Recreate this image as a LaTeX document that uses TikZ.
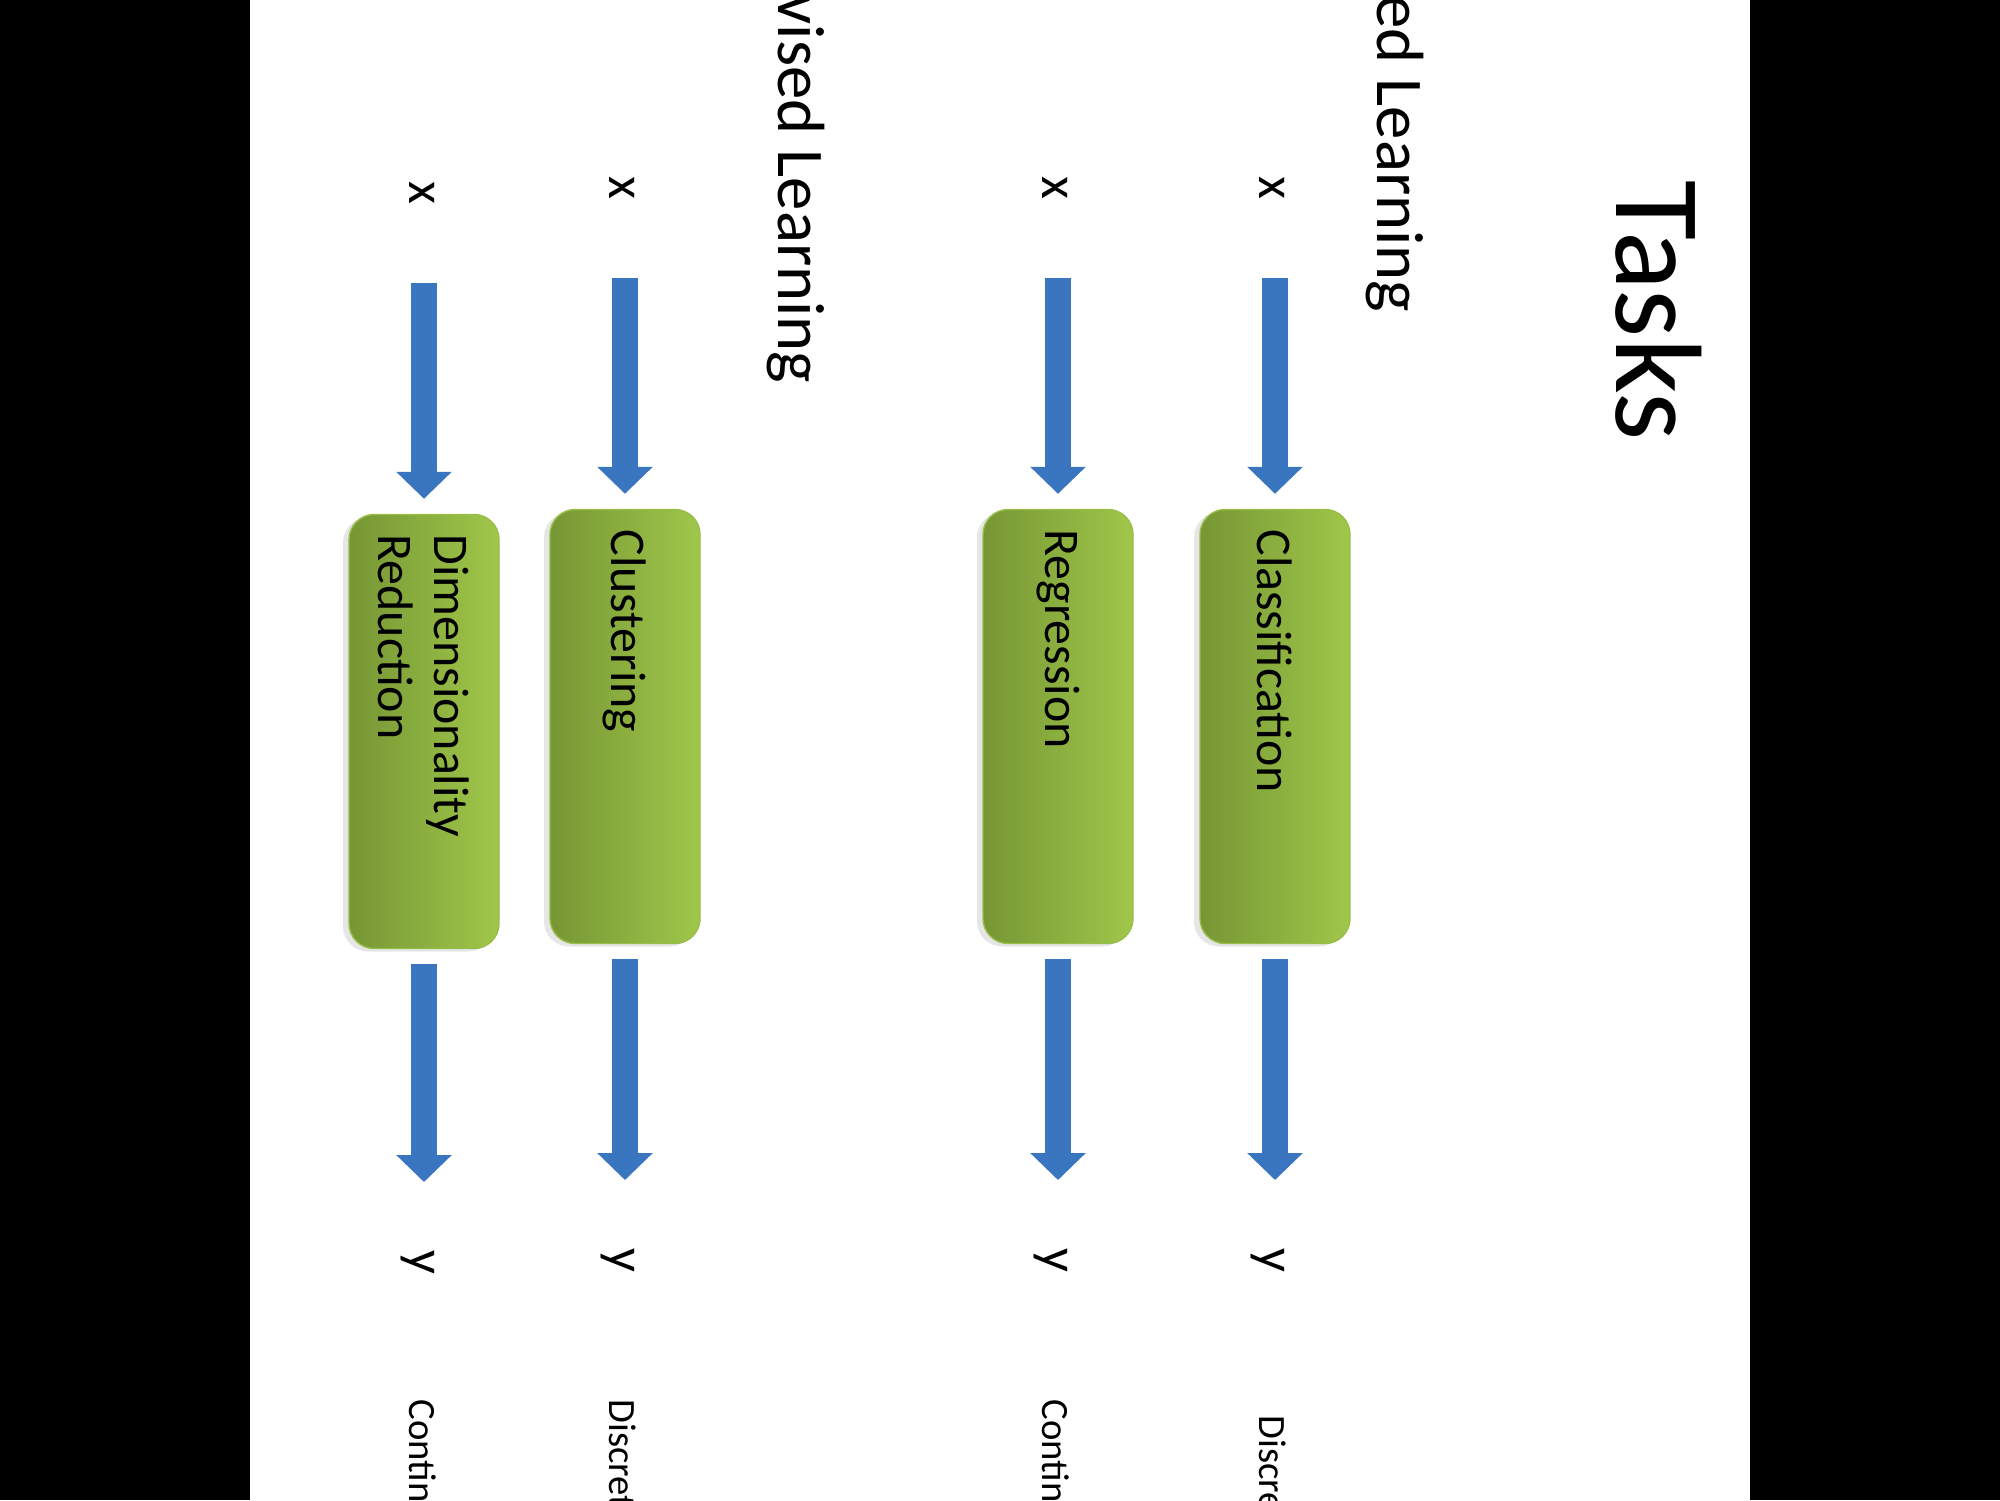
\documentclass[tikz,border=0pt]{standalone}
\usepackage{fontspec}
\setmainfont{Carlito}
\usetikzlibrary{arrows.meta,shadows}
\definecolor{arrowblue}{RGB}{58,118,192}
\definecolor{boxdark}{RGB}{118,150,52}
\definecolor{boxlight}{RGB}{160,199,74}
\definecolor{boxline}{RGB}{150,190,72}

\begin{document}
\begin{tikzpicture}[
    rot/.style={rotate=-90,inner sep=0pt},
    iolabel/.style={rot,font=\fontsize{15}{18}\selectfont,anchor=base},
    outnote/.style={rot,font=\fontsize{11}{13}\selectfont,anchor=base west},
    task/.style={rotate=-90,draw=boxline,rounded corners=0.25cm,minimum height=1.5cm,text width=3.94cm,inner xsep=0.2cm,inner ysep=0pt,align=left,left color=boxdark,right color=boxlight,font=\fontsize{14.2}{16}\selectfont,drop shadow={shadow xshift=-0.6mm,shadow yshift=-0.3mm,opacity=0.2}},
    flow/.style={line width=2.6mm,draw=arrowblue,-{Triangle[width=5.4mm,length=2.7mm]}}]
        \clip(0,0)rectangle(20,-15);
        \fill[black](0,0)rectangle(2.5,-15);
        \fill[black](17.5,0)rectangle(20,-15);

        % headings
        \node[rot,anchor=base west,font=\fontsize{35}{42}\selectfont](title)at(16.16,-1.80){Tasks};
        \node[rot,anchor=base east,font=\fontsize{19}{23}\selectfont](sup)at(13.77,-3.13){Supervised Learning};
        \node[rot,anchor=base east,font=\fontsize{19}{23}\selectfont](unsup)at(7.78,-3.84){Unsupervised Learning};

        % task boxes
        \node[task](cls)at(12.75,-7.265){Classification};
        \node[task](reg)at(10.58,-7.265){Regression};
        \node[task](clu)at(6.25,-7.265){Clustering};
        \node[task](dim)at(4.24,-7.315){Dimensionality\\Reduction};

        % inputs and outputs
        \node[iolabel](x1)at(12.595,-1.875){x};
        \node[iolabel](x2)at(10.425,-1.875){x};
        \node[iolabel](x3)at(6.095,-1.875){x};
        \node[iolabel](x4)at(4.095,-1.925){x};
        \node[iolabel](y1)at(12.595,-12.60){y};
        \node[iolabel](y2)at(10.425,-12.60){y};
        \node[iolabel](y3)at(6.095,-12.60){y};
        \node[iolabel](y4)at(4.095,-12.62){y};
        \node[outnote](d1)at(12.595,-14.15){Discrete};
        \node[outnote](c2)at(10.425,-13.99){Continuous};
        \node[outnote](d3)at(6.095,-13.99){Discrete};
        \node[outnote](c4)at(4.095,-13.99){Continuous};

        % arrows
        \draw[flow,shorten <=0.9cm,shorten >=0.15cm](cls.west |- x1.center)--(cls.west);
        \draw[flow,shorten <=0.9cm,shorten >=0.15cm](reg.west |- x2.center)--(reg.west);
        \draw[flow,shorten <=0.9cm,shorten >=0.15cm](clu.west |- x3.center)--(clu.west);
        \draw[flow,shorten <=0.9cm,shorten >=0.15cm](dim.west |- x4.center)--(dim.west);
        \draw[flow,shorten <=0.15cm,shorten >=0.8cm](cls.east)--(cls.east |- y1.center);
        \draw[flow,shorten <=0.15cm,shorten >=0.8cm](reg.east)--(reg.east |- y2.center);
        \draw[flow,shorten <=0.15cm,shorten >=0.8cm](clu.east)--(clu.east |- y3.center);
        \draw[flow,shorten <=0.15cm,shorten >=0.8cm](dim.east)--(dim.east |- y4.center);
    \end{tikzpicture}
\end{document}
